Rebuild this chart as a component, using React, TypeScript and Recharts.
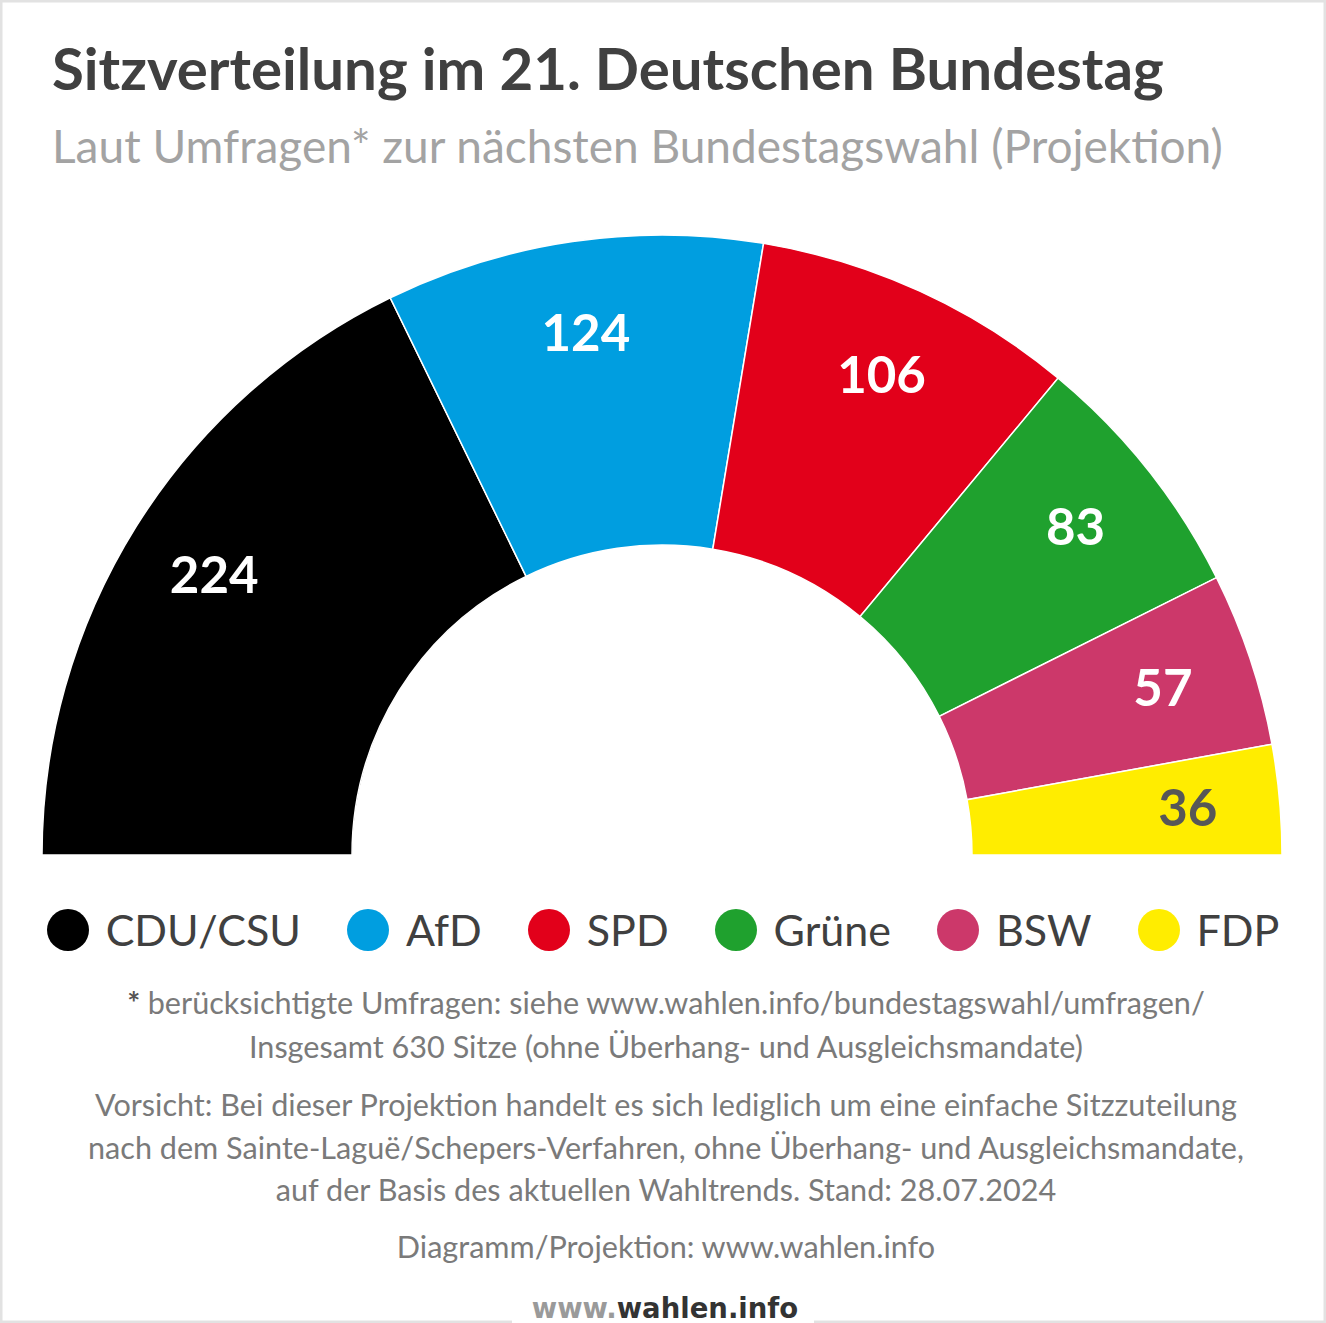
import React from "react";
import { PieChart, Pie, Cell, Legend } from "recharts";

const parties = ["CDU/CSU", "AfD", "SPD", "Grüne", "BSW", "FDP"];
const seats = [224, 124, 106, 83, 57, 36];
const partyColors = ["#000000", "#009ee0", "#e2001a", "#1fa12e", "#cc386a", "#ffed00"];
const labelColors = ["#ffffff", "#ffffff", "#ffffff", "#ffffff", "#ffffff", "#575757"];

const title = "Sitzverteilung im 21. Deutschen Bundestag";
const subtitle = "Laut Umfragen* zur nächsten Bundestagswahl (Projektion)";
const notes = [
  "berücksichtigte Umfragen: siehe www.wahlen.info/bundestagswahl/umfragen/",
  "Insgesamt 630 Sitze (ohne Überhang- und Ausgleichsmandate)",
  "Vorsicht: Bei dieser Projektion handelt es sich lediglich um eine einfache Sitzzuteilung",
  "nach dem Sainte-Laguë/Schepers-Verfahren, ohne Überhang- und Ausgleichsmandate,",
  "auf der Basis des aktuellen Wahltrends. Stand: 28.07.2024",
  "Diagramm/Projektion: www.wahlen.info",
];

const data = parties.map((name, i) => ({ name, value: seats[i] }));

const W = 1326;
const H = 1323;
const FONT = "Lato, 'Open Sans', sans-serif";
const RAD = Math.PI / 180;

const renderLabel = (props: any) => {
  const { cx, cy, midAngle, value, index } = props;
  const r = 528;
  const x = cx + r * Math.cos(-midAngle * RAD);
  const y = cy + r * Math.sin(-midAngle * RAD);
  return (
    <text
      x={x}
      y={y + 18}
      textAnchor="middle"
      fill={labelColors[index]}
      fontFamily={FONT}
      fontWeight={700}
      fontSize={51}
    >
      {value}
    </text>
  );
};

const renderLegend = () => (
  <div
    style={{
      display: "flex",
      justifyContent: "center",
      alignItems: "center",
      fontFamily: FONT,
      fontSize: 43,
      color: "#404040",
      width: W,
    }}
  >
    {parties.map((p, i) => (
      <div
        key={p}
        style={{
          display: "flex",
          alignItems: "center",
          marginRight: i < parties.length - 1 ? 46 : 0,
        }}
      >
        <span
          style={{
            display: "inline-block",
            width: 42,
            height: 42,
            borderRadius: 21,
            background: partyColors[i],
            marginRight: 17,
          }}
        />
        <span style={{ lineHeight: "50px" }}>{p}</span>
      </div>
    ))}
  </div>
);

const noteBaselines = [1014, 1058, 1116, 1159, 1201, 1258];

export default function App() {
  return (
    <div
      style={{
        position: "absolute",
        left: 0,
        top: 0,
        width: W,
        height: H,
        background: "#ffffff",
        overflow: "hidden",
      }}
    >
      <div style={{ position: "absolute", left: 0, top: 0 }}>
        <PieChart width={W} height={H} margin={{ top: 0, right: 0, bottom: 0, left: 0 }}>
          <Pie
            data={data}
            dataKey="value"
            nameKey="name"
            cx={662}
            cy={855}
            startAngle={180}
            endAngle={0}
            innerRadius={310}
            outerRadius={620}
            stroke="#ffffff"
            strokeWidth={1.5}
            label={renderLabel}
            labelLine={false}
            isAnimationActive={false}
          >
            {data.map((d, i) => (
              <Cell key={d.name} fill={partyColors[i]} />
            ))}
          </Pie>
          <Legend
            content={renderLegend}
            wrapperStyle={{ position: "absolute", top: 905, left: 0, width: W, bottom: "auto" }}
          />
        </PieChart>
      </div>
      <svg
        width={W}
        height={H}
        style={{ position: "absolute", left: 0, top: 0, pointerEvents: "none" }}
      >
        <text x={52} y={90} fontFamily={FONT} fontWeight={700} fontSize={58.2} fill="#404040">
          {title}
        </text>
        <text x={52} y={163} fontFamily={FONT} fontWeight={400} fontSize={46} fill="#a3a3a3">
          {subtitle}
        </text>
        {notes.map((n, i) => (
          <text
            key={i}
            x={666}
            y={noteBaselines[i]}
            textAnchor="middle"
            fontFamily={FONT}
            fontSize={30.6}
            fill="#7a7a7a"
          >
            {i === 0 ? (
              <>
                <tspan fill="#555555" fontWeight={700}>
                  {"* "}
                </tspan>
                {n}
              </>
            ) : (
              n
            )}
          </text>
        ))}
        <rect x={0} y={0} width={W} height={H} fill="none" stroke="#e2e2e2" strokeWidth={5} />
        <rect x={512} y={1290} width={302} height={33} fill="#ffffff" />
        <text
          x={665}
          y={1318}
          textAnchor="middle"
          fontFamily="'DejaVu Sans', sans-serif"
          fontWeight={700}
          fontSize={27.5}
        >
          <tspan fill="#9a9a9a">www.</tspan>
          <tspan fill="#333333">wahlen.info</tspan>
        </text>
      </svg>
    </div>
  );
}
